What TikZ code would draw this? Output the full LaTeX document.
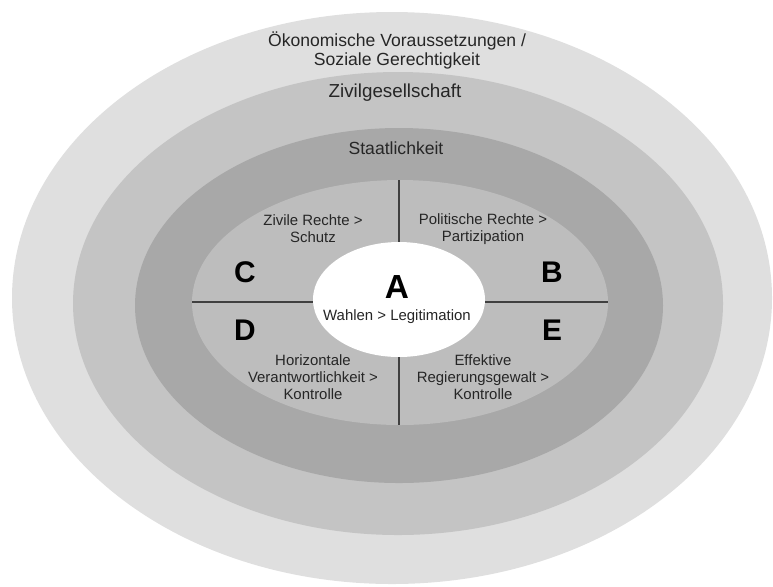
\documentclass[tikz,border=0pt]{standalone}
\usepackage{fontspec}
\setmainfont{Liberation Sans}

\definecolor{ringA}{HTML}{DFDFDF}
\definecolor{ringB}{HTML}{C4C4C4}
\definecolor{ringC}{HTML}{A8A8A8}
\definecolor{ringD}{HTML}{BDBDBD}
\definecolor{txtgray}{HTML}{262626}

\tikzset{
    ringlabel/.style={align=center, text=txtgray, font=\fontsize{10}{10.8}\selectfont, inner sep=0},
    fieldlabel/.style={align=center, text=txtgray, font=\fontsize{8.5}{9.8}\selectfont, inner sep=0},
    letter/.style={font=\fontsize{17}{17}\selectfont\bfseries, inner sep=0},
    divider/.style={draw=black!75, line width=0.6pt}
}

\begin{document}
\begin{tikzpicture}[x=0.02cm, y=-0.02cm]

    \useasboundingbox (0,0) rectangle (773,586);

    %% Rings

    % Economic conditions
    \fill[ringA] (392,298) ellipse [x radius=380, y radius=286];
    % Civil society
    \fill[ringB] (398,303.5) ellipse [x radius=325, y radius=231.5];
    % Statehood
    \fill[ringC] (399,305.5) ellipse [x radius=264, y radius=177.5];
    % Partial regimes
    \fill[ringD] (400,302.5) ellipse [x radius=208, y radius=122.5];
    % Core
    \fill[white] (399,299.5) ellipse [x radius=86, y radius=57.5];

    %% Dividers
    \coordinate (top) at (399,180);
    \coordinate (coretop) at (399,242);
    \coordinate (corebot) at (399,357);
    \coordinate (bot) at (399,425);
    \coordinate (left) at (192,302);
    \coordinate (coreleft) at (313,302);
    \coordinate (coreright) at (485,302);
    \coordinate (right) at (608,302);
    \draw[divider] (top) -- (coretop);
    \draw[divider] (corebot) -- (bot);
    \draw[divider] (left) -- (coreleft);
    \draw[divider] (coreright) -- (right);

    %% Ring labels
    \node[ringlabel] (oekonomie) at (397,50) {Ökonomische Voraussetzungen /\\Soziale Gerechtigkeit};
    \node[ringlabel, font=\fontsize{10.7}{12}\selectfont] (zivil) at (395,93) {Zivilgesellschaft};
    \node[ringlabel] (staat) at (396,148) {Staatlichkeit};

    %% Partial regimes
    \node[letter, font=\fontsize{19}{19}\selectfont\bfseries] (A) at (397,287) {A};
    \node[fieldlabel] (wahlen) at (397,317) {Wahlen > Legitimation};

    \node[letter] (C) at (245,272) {C};
    \node[fieldlabel] (zivile) at (313,229) {Zivile Rechte >\\Schutz};

    \node[letter] (B) at (552,272) {B};
    \node[fieldlabel] (politische) at (483,229) {Politische Rechte >\\Partizipation};

    \node[letter] (D) at (245,330) {D};
    \node[fieldlabel] (horizontal) at (313,377) {Horizontale\\Verantwortlichkeit >\\Kontrolle};

    \node[letter] (E) at (552,330) {E};
    \node[fieldlabel] (effektiv) at (483,377) {Effektive\\Regierungsgewalt >\\Kontrolle};

\end{tikzpicture}
\end{document}
